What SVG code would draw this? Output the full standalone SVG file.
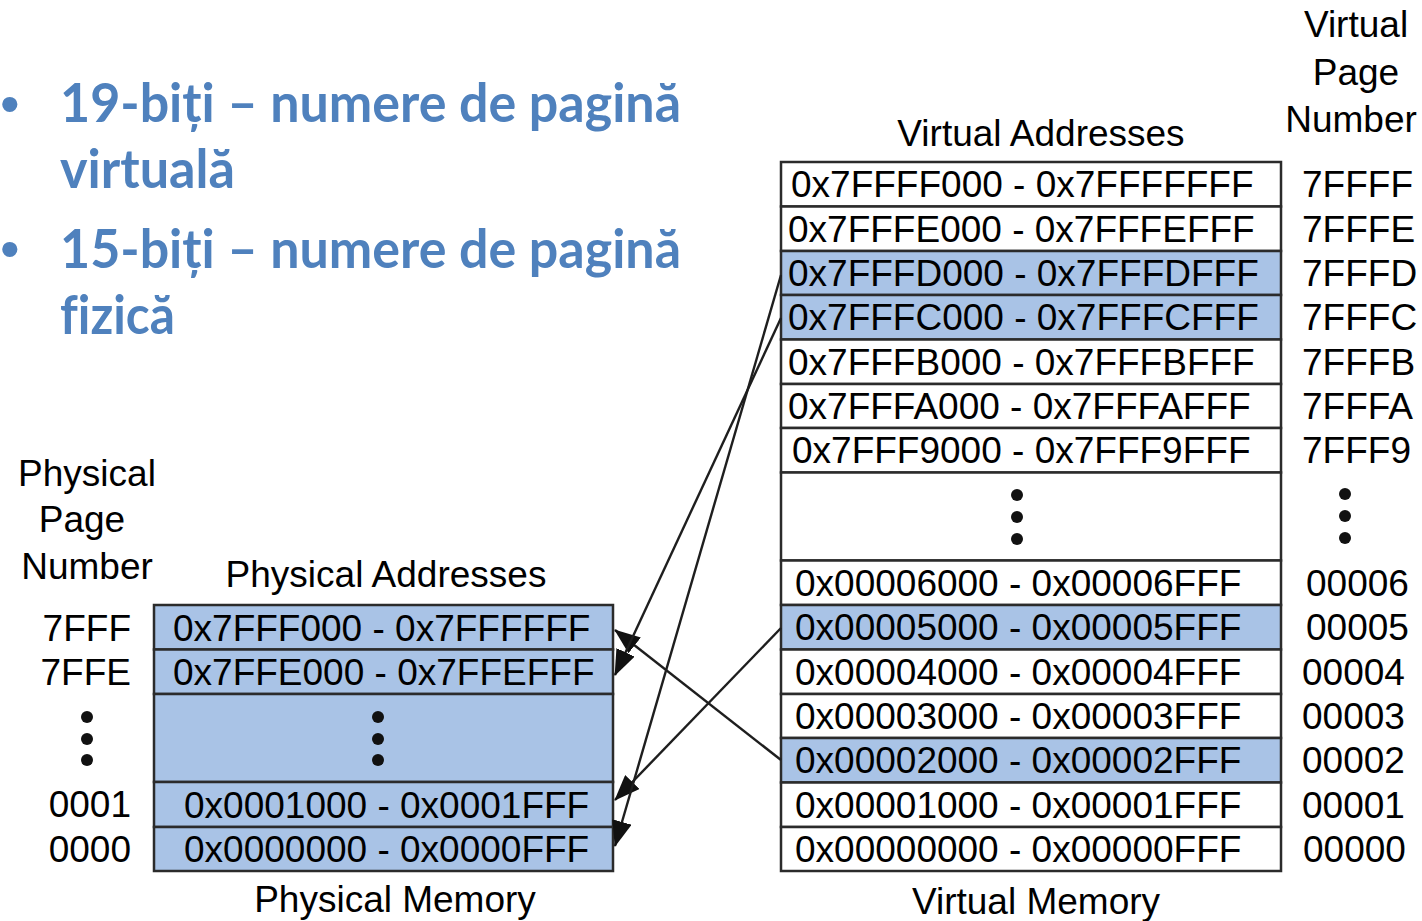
<svg xmlns="http://www.w3.org/2000/svg" width="1422" height="921" viewBox="0 0 1422 921">
<style>
.bul{font-family:Lato,"Open Sans",sans-serif;font-weight:bold;font-size:53px;fill:#4F81BD;font-variant-ligatures:none}
.dot{font-family:"Liberation Sans",Arial,sans-serif;font-size:56px;fill:#4F81BD}
.t{font-family:"Liberation Sans",Arial,sans-serif;font-size:37px;fill:#000}
.c{text-anchor:middle}
.e{text-anchor:end}
.blue{fill:#A9C3E6;stroke:#2b2b2b;stroke-width:2.5}
.white{fill:#fff;stroke:#2b2b2b;stroke-width:2.5}
.conn{stroke:#1e1e1e;stroke-width:2.4;fill:none;marker-end:url(#ah)}
</style>
<defs>
<marker id="ah" viewBox="0 0 26 20" refX="25" refY="10" markerWidth="26" markerHeight="20" markerUnits="userSpaceOnUse" orient="auto">
<path d="M0,0 L26,10 L0,20 z" fill="#111"/>
</marker>
</defs>
<rect width="1422" height="921" fill="#fff"/>

<g id="bullets">
<text class="dot" x="0" y="123">•</text>
<text class="bul" x="60" y="122" textLength="621" lengthAdjust="spacingAndGlyphs">19-biți – numere de pagină</text>
<text class="bul" x="60" y="188" textLength="175" lengthAdjust="spacingAndGlyphs">virtuală</text>
<text class="dot" x="0" y="268">•</text>
<text class="bul" x="60" y="268" textLength="621" lengthAdjust="spacingAndGlyphs">15-biți – numere de pagină</text>
<text class="bul" x="60" y="334" textLength="115" lengthAdjust="spacingAndGlyphs">fizică</text>
</g>

<g id="labels">
<text class="t c" x="1356" y="37">Virtual</text>
<text class="t c" x="1356" y="85">Page</text>
<text class="t c" x="1351" y="132">Number</text>
<text class="t c" x="1041" y="146">Virtual Addresses</text>
<text class="t c" x="87" y="486">Physical</text>
<text class="t c" x="82" y="532">Page</text>
<text class="t c" x="87" y="579">Number</text>
<text class="t c" x="386" y="587">Physical Addresses</text>
<text class="t c" x="395" y="912">Physical Memory</text>
<text class="t c" x="1036" y="914">Virtual Memory</text>
</g>

<g id="virtual-memory">
<rect class="white" x="781" y="162" width="500" height="44.5"/>
<rect class="white" x="781" y="206.5" width="500" height="44.5"/>
<rect class="blue" x="781" y="251" width="500" height="44"/>
<rect class="blue" x="781" y="295" width="500" height="44.5"/>
<rect class="white" x="781" y="339.5" width="500" height="44.5"/>
<rect class="white" x="781" y="384" width="500" height="44"/>
<rect class="white" x="781" y="428" width="500" height="44.5"/>
<rect class="white" x="781" y="472.5" width="500" height="88"/>
<rect class="white" x="781" y="560.5" width="500" height="44.5"/>
<rect class="blue" x="781" y="605" width="500" height="44.5"/>
<rect class="white" x="781" y="649.5" width="500" height="44.5"/>
<rect class="white" x="781" y="694" width="500" height="44"/>
<rect class="blue" x="781" y="738" width="500" height="44.5"/>
<rect class="white" x="781" y="782.5" width="500" height="44.5"/>
<rect class="white" x="781" y="827" width="500" height="44"/>
<text class="t" x="791" y="197">0x7FFFF000 - 0x7FFFFFFF</text>
<text class="t" x="788" y="242">0x7FFFE000 - 0x7FFFEFFF</text>
<text class="t" x="788" y="286">0x7FFFD000 - 0x7FFFDFFF</text>
<text class="t" x="788" y="330">0x7FFFC000 - 0x7FFFCFFF</text>
<text class="t" x="788" y="375">0x7FFFB000 - 0x7FFFBFFF</text>
<text class="t" x="788" y="419">0x7FFFA000 - 0x7FFFAFFF</text>
<text class="t" x="792" y="463">0x7FFF9000 - 0x7FFF9FFF</text>
<circle cx="1017" cy="495" r="6" fill="#111"/>
<circle cx="1017" cy="517" r="6" fill="#111"/>
<circle cx="1017" cy="539" r="6" fill="#111"/>
<text class="t" x="795" y="596">0x00006000 - 0x00006FFF</text>
<text class="t" x="795" y="640">0x00005000 - 0x00005FFF</text>
<text class="t" x="795" y="685">0x00004000 - 0x00004FFF</text>
<text class="t" x="795" y="729">0x00003000 - 0x00003FFF</text>
<text class="t" x="795" y="773">0x00002000 - 0x00002FFF</text>
<text class="t" x="795" y="818">0x00001000 - 0x00001FFF</text>
<text class="t" x="795" y="862">0x00000000 - 0x00000FFF</text>
</g>

<g id="virtual-page-numbers">
<text class="t" x="1302" y="197">7FFFF</text>
<text class="t" x="1302" y="242">7FFFE</text>
<text class="t" x="1302" y="286">7FFFD</text>
<text class="t" x="1302" y="330">7FFFC</text>
<text class="t" x="1302" y="375">7FFFB</text>
<text class="t" x="1302" y="419">7FFFA</text>
<text class="t" x="1302" y="463">7FFF9</text>
<circle cx="1345" cy="494" r="6" fill="#111"/>
<circle cx="1345" cy="516" r="6" fill="#111"/>
<circle cx="1345" cy="538" r="6" fill="#111"/>
<text class="t" x="1306" y="596">00006</text>
<text class="t" x="1306" y="640">00005</text>
<text class="t" x="1302" y="685">00004</text>
<text class="t" x="1302" y="729">00003</text>
<text class="t" x="1302" y="773">00002</text>
<text class="t" x="1302" y="818">00001</text>
<text class="t" x="1303" y="862">00000</text>
</g>

<g id="physical-memory">
<rect class="blue" x="154" y="605" width="459" height="44.5"/>
<rect class="blue" x="154" y="649.5" width="459" height="44.5"/>
<rect class="blue" x="154" y="694" width="459" height="88"/>
<rect class="blue" x="154" y="782" width="459" height="45"/>
<rect class="blue" x="154" y="827" width="459" height="44"/>
<text class="t" x="173" y="641">0x7FFF000 - 0x7FFFFFF</text>
<text class="t" x="173" y="685">0x7FFE000 - 0x7FFEFFF</text>
<circle cx="378" cy="717" r="6" fill="#111"/>
<circle cx="378" cy="739" r="6" fill="#111"/>
<circle cx="378" cy="760" r="6" fill="#111"/>
<text class="t" x="184" y="818">0x0001000 - 0x0001FFF</text>
<text class="t" x="184" y="862">0x0000000 - 0x0000FFF</text>
</g>

<g id="physical-page-numbers">
<text class="t e" x="131" y="641">7FFF</text>
<text class="t e" x="131" y="685">7FFE</text>
<circle cx="87" cy="717" r="6" fill="#111"/>
<circle cx="87" cy="739" r="6" fill="#111"/>
<circle cx="87" cy="760" r="6" fill="#111"/>
<text class="t e" x="131" y="817">0001</text>
<text class="t e" x="131" y="862">0000</text>
</g>

<g id="connectors">
<line class="conn" x1="781" y1="760" x2="615" y2="630"/>
<line class="conn" x1="781" y1="628" x2="615" y2="800"/>
<line class="conn" x1="781" y1="318" x2="615" y2="675"/>
<line class="conn" x1="781" y1="275" x2="615" y2="846"/>
</g>
</svg>
